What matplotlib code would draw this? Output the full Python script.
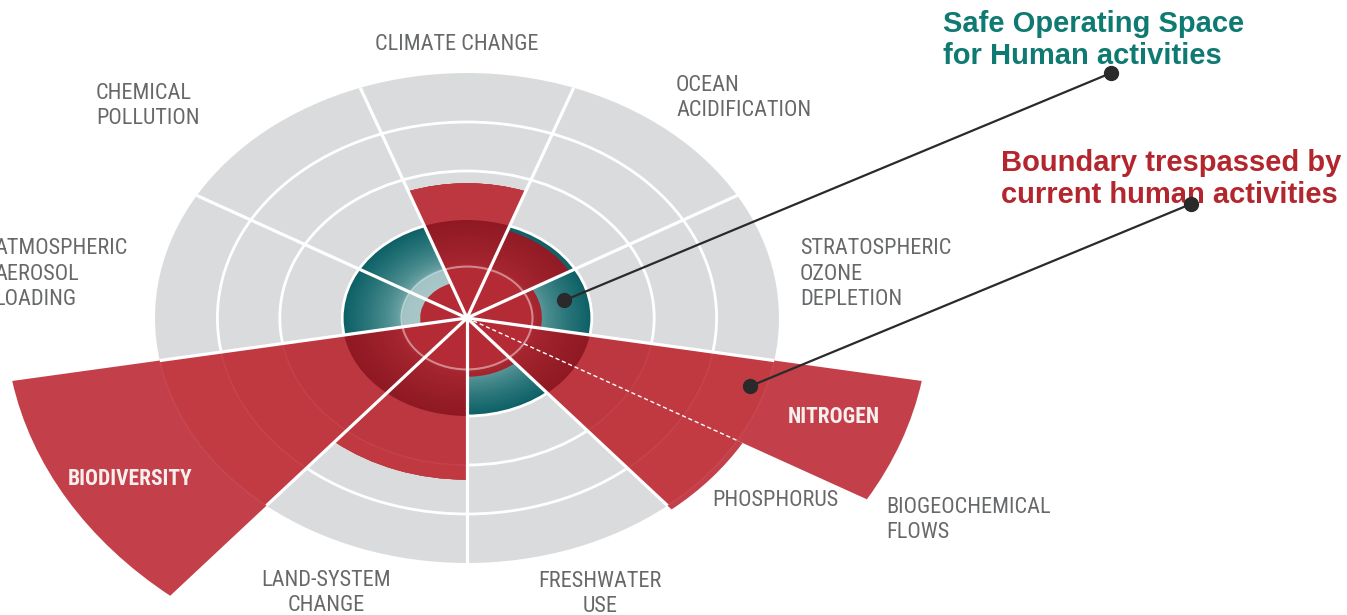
import numpy as np
import matplotlib
matplotlib.use('Agg')
import matplotlib.pyplot as plt
from matplotlib.patches import Wedge, Circle
from matplotlib.colors import to_rgb
from matplotlib import font_manager

# planetary boundaries, values in "ring" units (boundary of the safe space = 2)
sectors = ['CLIMATE CHANGE', 'CHEMICAL POLLUTION', 'ATMOSPHERIC AEROSOL LOADING', 'BIODIVERSITY',
           'LAND-SYSTEM CHANGE', 'FRESHWATER USE', 'PHOSPHORUS', 'NITROGEN',
           'STRATOSPHERIC OZONE DEPLETION', 'OCEAN ACIDIFICATION']
start_deg = [70, 110, 150, 190, 230, 270, 310, 330, 350, 30]
span_deg = [40, 40, 40, 40, 40, 40, 20, 20, 40, 40]
current = [2.75, 0.75, 0.75, 7.4, 3.3, 1.2, 5.1, 7.4, 1.2, 1.9]
safe_limit = 2.0
grid_rings = [2, 3, 4]
outer = 5.0

label_text = ['CLIMATE CHANGE', 'CHEMICAL\nPOLLUTION', 'OCEAN\nACIDIFICATION',
              'ATMOSPHERIC\nAEROSOL\nLOADING', 'STRATOSPHERIC\nOZONE\nDEPLETION',
              'PHOSPHORUS', 'BIOGEOCHEMICAL\nFLOWS', 'LAND-SYSTEM\nCHANGE', 'FRESHWATER\nUSE']
label_xy = [(457, 44), (96, 106), (676, 98), (-6, 274), (800, 274),
            (712, 500), (886, 520), (326, 593), (600, 594)]
label_ha = ['center', 'left', 'left', 'left', 'left', 'left', 'left', 'center', 'center']

# pixel layout of the squashed disc
W, H = 1347, 615
CX, CY = 467, 318
SX, SY = 62.4, 49.0

def px(x, y):
    return (x - CX) / SX, (CY - y) / SY

available = {f.name for f in font_manager.fontManager.ttflist}
narrow = 'Roboto'
for name in ['Roboto Condensed', 'Liberation Sans Narrow', 'DejaVu Sans Condensed']:
    if name in available:
        narrow = name
        break

GREY = '#d9dbdc'
LABEL = '#67686a'

def mix(c0, c1, t):
    return tuple(np.array(to_rgb(c0)) * (1 - t) + np.array(to_rgb(c1)) * t)

fig = plt.figure(figsize=(W / 100, H / 100), dpi=100)
ax = fig.add_axes([0, 0, 1, 1])
ax.set_xlim(px(0, 0)[0], px(W, 0)[0])
ax.set_ylim(px(0, H)[1], px(0, 0)[1])
ax.axis('off')

n = 70
for a0, span, val in zip(start_deg, span_deg, current):
    a1 = a0 + span
    ax.add_patch(Wedge((0, 0), outer, a0, a1, fc=GREY, ec='none', zorder=1))
    # safe operating space (teal, darker toward the boundary)
    for k in range(n, 0, -1):
        r = safe_limit * k / n
        if r > 1.05:
            t = (r - 1.05) / (safe_limit - 1.05)
            c = mix('#7fb0b2', '#0c6166', t ** 0.6)
        else:
            c = mix('#b8cfd1', '#a4c4c6', r)
        ax.add_patch(Wedge((0, 0), r, a0, a1, fc=c, ec='none', zorder=2))

for r in grid_rings:
    ax.add_patch(Circle((0, 0), r, fill=False, ec='white', lw=2, zorder=3))

for a0, span, val in zip(start_deg, span_deg, current):
    a1 = a0 + span
    if val > safe_limit:
        ax.add_patch(Wedge((0, 0), val, a0, a1, fc='#c3404a', ec='none', zorder=4))
        for r, c in [(min(val, 5), '#c23b43'), (min(val, 4), '#c03941'), (min(val, 3), '#bd3740')]:
            ax.add_patch(Wedge((0, 0), r, a0, a1, fc=c, ec='none', zorder=4))
    top = min(val, safe_limit)
    for k in range(n, 0, -1):
        r = top * k / n
        if r > 1.05:
            c = mix('#ac2933', '#8f1923', ((r - 1.05) / (safe_limit - 1.05)) ** 0.7)
        else:
            c = '#b52b35'
        ax.add_patch(Wedge((0, 0), r, a0, a1, fc=c, ec='none', zorder=4))

ax.add_patch(Circle((0, 0), 1.05, fill=False, ec='white', lw=1.5, alpha=0.45, zorder=5))
for r in [3, 4, 5]:
    ax.add_patch(Circle((0, 0), r, fill=False, ec='white', lw=1, alpha=0.06, zorder=5))

# sector dividers
for a0, span in zip(start_deg, span_deg):
    t = np.radians(a0)
    if a0 == 330:
        ax.plot([0, outer * np.cos(t)], [0, outer * np.sin(t)], color='white', lw=1,
                ls=(0, (3, 2)), zorder=6)
    else:
        ax.plot([0, outer * np.cos(t)], [0, outer * np.sin(t)], color='white', lw=2.3,
                zorder=6, solid_capstyle='butt')
ax.plot([0], [0], 'o', color='white', ms=4, zorder=7)

for txt, (x, y), ha in zip(label_text, label_xy, label_ha):
    ax.text(*px(x, y), txt, ha=ha, va='center', fontsize=16, color=LABEL,
            family=narrow, linespacing=1.3, zorder=8)

ax.text(*px(834, 417), 'NITROGEN', ha='center', va='center', fontsize=15.5, color='#f7eeee',
        family=narrow, fontweight='bold', zorder=8)
ax.text(*px(130, 479), 'BIODIVERSITY', ha='center', va='center', fontsize=15.5, color='#f7eeee',
        family=narrow, fontweight='bold', zorder=8)

# call-outs
ax.text(*px(943, 40), 'Safe Operating Space\nfor Human activities', ha='left', va='center',
        fontsize=21, color='#0e7a72', fontweight='bold', family='Liberation Sans',
        linespacing=1.15, zorder=8)
ax.text(*px(1001, 179), 'Boundary trespassed by\ncurrent human activities', ha='left', va='center',
        fontsize=21, color='#b3262d', fontweight='bold', family='Liberation Sans',
        linespacing=1.15, zorder=8)

callouts = [(8, 1.6, (1111, 73)), (7, 4.75, (1191, 204))]
for i, r, end in callouts:
    t = np.radians(start_deg[i] + span_deg[i] / 2 + 3)
    x0, y0 = r * np.cos(t), r * np.sin(t)
    x1, y1 = px(*end)
    ax.plot([x0, x1], [y0, y1], color='#2a2a2a', lw=1.6, zorder=9)
    ax.plot([x0, x1], [y0, y1], 'o', color='#2a2a2a', ms=10, zorder=9)

fig.savefig('out.png', dpi=100)
